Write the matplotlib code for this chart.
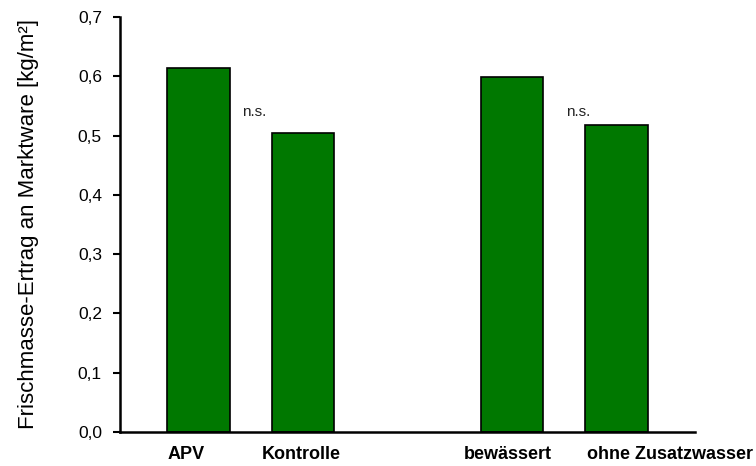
import matplotlib
matplotlib.use("Agg")
import matplotlib.pyplot as plt
from matplotlib.ticker import FuncFormatter

categories = ["APV", "Kontrolle", "bewässert", "ohne Zusatzwasser"]
positions = [0, 1, 3, 4]
yields = [0.614, 0.504, 0.599, 0.518]
ns_x = [0.53, 3.63]
ns_y = [0.54, 0.54]

plt.rcParams['font.family'] = ['Liberation Sans', 'DejaVu Sans']

fig = plt.figure(figsize=(7.56, 4.66), dpi=100)
ax = fig.add_axes([0.1587, 0.073, 0.7606, 0.8905])

ax.bar(positions, yields, width=0.6, color="#007800", edgecolor="black", linewidth=1.2)
for x, y in zip(ns_x, ns_y):
    ax.text(x, y, "n.s.", fontsize=11, ha="center", va="center", color="#222222")

ax.set_xlim(-0.75, 4.75)
ax.set_ylim(0, 0.7)
ax.set_yticks([i / 10 for i in range(8)])
ax.yaxis.set_major_formatter(FuncFormatter(lambda v, p: f"{v:.1f}".replace(".", ",")))
# category labels sit slightly off the bar centres, as in the original
label_pos = [-0.12, 0.98, 2.96, 4.51]
ax.set_xticks(label_pos)
ax.set_xticklabels(categories, fontweight="bold", fontsize=13)
ax.tick_params(axis="x", length=0, pad=10)
ax.tick_params(axis="y", direction="out", length=5, width=1.5, labelsize=12.5, pad=8)
for s in ["top", "right"]:
    ax.spines[s].set_visible(False)
for s in ["left", "bottom"]:
    ax.spines[s].set_linewidth(1.8)
ax.set_ylabel("Frischmasse-Ertrag an Marktware [kg/m²]", fontsize=16, labelpad=28)

fig.savefig("out.png", dpi=100)
